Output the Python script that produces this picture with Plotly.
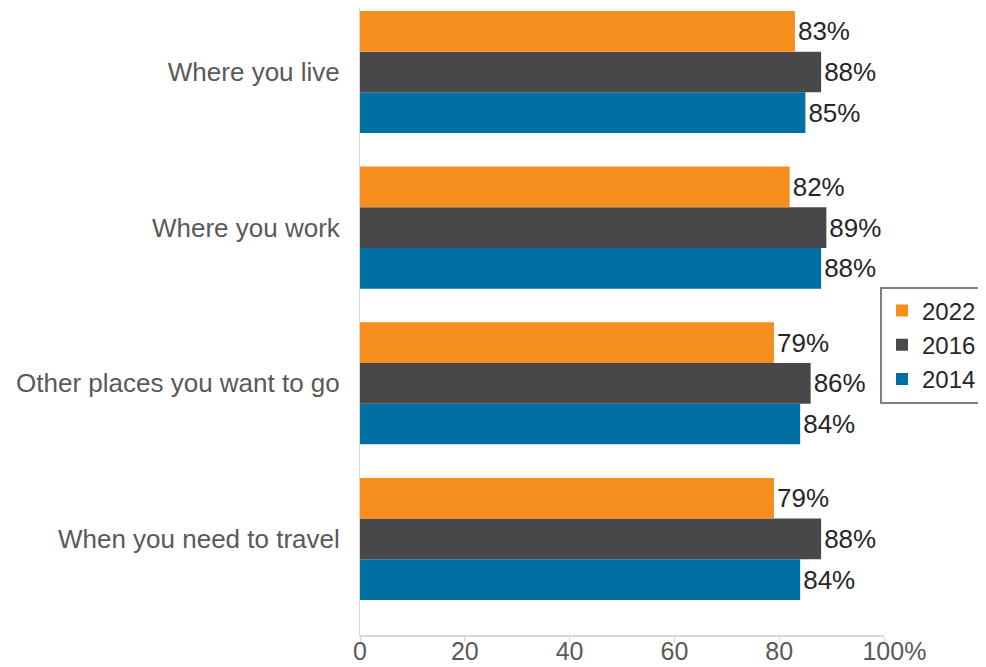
import plotly.graph_objects as go

categories = ["When you need to travel", "Other places you want to go", "Where you work", "Where you live"]
values_2014 = [84, 84, 88, 85]
values_2016 = [88, 86, 89, 88]
values_2022 = [79, 79, 82, 83]
tick_vals = [0, 20, 40, 60, 80, 100]
tick_text = ["0", "20", "40", "60", "80", "\u00a0\u00a0\u00a0100%"]

series = [
    ("2014", values_2014, "#0070A3"),
    ("2016", values_2016, "#48484A"),
    ("2022", values_2022, "#F78F1E"),
]

FONT = "Liberation Sans, Arial, sans-serif"
# page body has an 8px margin, so the figure is sized to fit the window exactly
W, H = 978, 659
fig = go.Figure()
for name, vals, color in series:
    fig.add_trace(go.Bar(
        y=categories, x=vals, name=name, orientation="h",
        marker=dict(color=color, line=dict(width=0)),
        text=[f"{v}%" for v in vals], textposition="outside",
        textfont=dict(size=26, color="#262626", family=FONT),
        cliponaxis=False,
    ))

fig.update_layout(
    barmode="group",
    bargap=0.216,
    bargroupgap=0,
    width=W, height=H,
    margin=dict(l=0, r=0, t=0, b=0, autoexpand=False),
    plot_bgcolor="white", paper_bgcolor="white",
    font=dict(family=FONT, size=26, color="#595959"),
    xaxis=dict(domain=[352 / W, 876 / W], range=[0, 100], tickvals=tick_vals, ticktext=tick_text,
               showgrid=False, showline=True, linecolor="#D9D9D9", linewidth=2, ticks="outside",
               tickcolor="#D9D9D9", ticklen=5, tickwidth=1, zeroline=False, automargin=False,
               ticklabelstandoff=-12,
               tickfont=dict(size=25, color="#595959")),
    yaxis=dict(domain=[1 - 627 / H, 1], range=[-0.617, 3.411], showgrid=False, showline=True,
               linecolor="#D9D9D9", linewidth=1, ticks="", ticklabelstandoff=14, automargin=False,
               tickfont=dict(size=26, color="#595959")),
    legend=dict(x=(W - 3) / W, xanchor="right", y=1 - 337 / H, yanchor="middle", traceorder="reversed",
                bordercolor="#7F7F7F", borderwidth=2, bgcolor="white",
                font=dict(size=24, color="#262626"), itemwidth=30),
)

fig.write_html("out.html")
